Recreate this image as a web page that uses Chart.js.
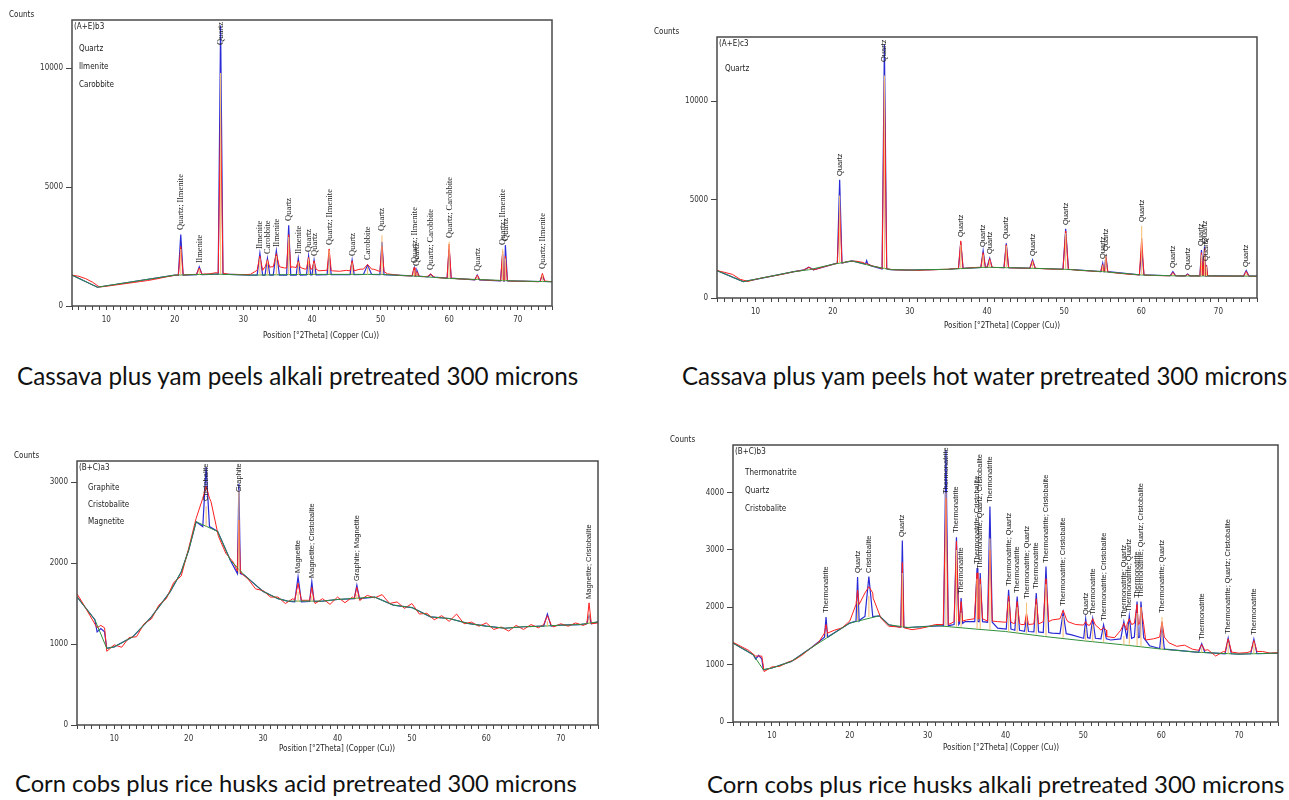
<!DOCTYPE html>
<html>
<head>
<meta charset="utf-8">
<script src="https://cdn.jsdelivr.net/npm/chart.js@4.4.1/dist/chart.umd.min.js"></script>
<style>
  body { margin: 0; width: 1289px; height: 800px; background: #fff; position: relative; overflow: hidden; }
  .panel { position: absolute; }
  .txt { position: absolute; white-space: nowrap; line-height: 1; color: #222; }
  .lbl { position: absolute; white-space: nowrap; line-height: 1; color: #222; transform-origin: 0 0; transform: rotate(-90deg); }
  .cap { position: absolute; white-space: nowrap; line-height: 1; color: #111; font-family: Lato, 'Open Sans', sans-serif; }
</style>
</head>
<body>
<script>
// ========== DATA ==========
const xTickLabels = [10, 20, 30, 40, 50, 60, 70];
// observed (red) baseline, read at every degree 5..75
const obsX = [5, 6, 7, 8, 9, 10, 11, 12, 13, 14, 15, 16, 17, 18, 19, 20, 21, 22, 23, 24, 25, 26, 27, 28, 29, 30,
  31, 32, 33, 34, 35, 36, 37, 38, 39, 40, 41, 42, 43, 44, 45, 46, 47, 48, 49, 50, 51, 52, 53, 54, 55,
  56, 57, 58, 59, 60, 61, 62, 63, 64, 65, 66, 67, 68, 69, 70, 71, 72, 73, 74, 75];

// --- (A+E)b3 : cassava + yam, alkali ---
const p1YTicks = [0, 5000, 10000];
const p1Phases = ["Quartz", "Ilmenite", "Carobbite"];
const p1BgX = [5, 8.7, 20, 26, 31, 40, 50, 55, 60, 70, 75];
const p1BgY = [1300, 790, 1300, 1340, 1300, 1330, 1330, 1260, 1160, 1050, 1020];
const p1ObsY = [1300, 1250, 1150, 1000, 800, 830, 870, 910, 950, 990,
  1030, 1070, 1120, 1180, 1240, 1290, 1300, 1320, 1330, 1340,
  1350, 1400, 1380, 1330, 1330, 1320, 1330, 1500, 1600, 1650,
  1600, 1600, 1650, 1600, 1550, 1500, 1480, 1500, 1480, 1460,
  1500, 1450, 1550, 1700, 1550, 1420, 1350, 1320, 1280, 1270,
  1260, 1230, 1260, 1200, 1180, 1170, 1150, 1130, 1120, 1100,
  1100, 1080, 1070, 1060, 1050, 1040, 1040, 1030, 1020, 1050, 1020];
const p1PeakPos = [20.86, 23.56, 26.67, 32.4, 33.5, 34.8, 36.6, 38.0, 39.5, 40.3, 42.5, 45.85, 48.1, 50.2, 54.9, 55.3, 57.3, 60.0, 64.1, 67.8, 68.2, 73.6];
const p1PeakFit = [3010, 1650, 11800, 2220, 2000, 2320, 3400, 2000, 2100, 1930, 2180, 1930, 1720, 2700, 1600, 1500, 1330, 2400, 1300, 2180, 2560, 1300];
const p1PeakObs = [2500, 1600, 8100, 2100, 1950, 2200, 3000, 1900, 2050, 1900, 2400, 1900, 1750, 2500, 1620, 1450, 1350, 2600, 1300, 2300, 2100, 1370];
const p1PeakStick = [2400, 1550, 9800, 2000, 1900, 2100, 2900, 1850, 2000, 1800, 2350, 1800, 1650, 2980, 1500, 1400, 1300, 2700, 1250, 2400, 2000, 1300];
const p1PeakBase = [1300, 1320, 1340, 1300, 1300, 1300, 1300, 1300, 1310, 1310, 1320, 1320, 1330, 1320, 1270, 1260, 1220, 1170, 1100, 1060, 1060, 1030];
const p1PeakObsBase = [1300, 1330, 1380, 1500, 1620, 1650, 1600, 1620, 1560, 1550, 1500, 1480, 1550, 1450, 1270, 1260, 1250, 1170, 1100, 1060, 1060, 1030];
const p1PeakW = [0.35, 0.4, 0.35, 0.4, 0.35, 0.45, 0.3, 0.3, 0.3, 0.3, 0.3, 0.3, 0.6, 0.3, 0.3, 0.3, 0.4, 0.3, 0.35, 0.3, 0.3, 0.35];
const p1PeakLabel = ["Quartz; Ilmenite", "Ilmenite", "Quartz", "Ilmenite", "Carobbite", "Ilmenite", "Quartz", "Ilmenite", "Quartz", "Quartz",
  "Quartz; Ilmenite", "Quartz", "Carobbite", "Quartz", "Quartz; Ilmenite", "Quartz", "Quartz; Carobbite", "Quartz; Carobbite", "Quartz",
  "Quartz; Ilmenite", "Quartz", "Quartz; Ilmenite"];

// --- (A+E)c3 : cassava + yam, hot water ---
const p2YTicks = [0, 5000, 10000];
const p2Phases = ["Quartz"];
const p2BgX = [5, 8.4, 10, 15, 17, 20, 22.5, 25, 27.5, 30, 35, 37, 40, 45, 50, 55, 60, 65, 70, 75];
const p2BgY = [1390, 830, 950, 1340, 1440, 1710, 1880, 1630, 1440, 1420, 1460, 1500, 1560, 1520, 1460, 1340, 1170, 1120, 1120, 1110];
const p2ObsY = [1390, 1300, 1200, 950, 840, 950, 1030, 1100, 1170, 1250,
  1340, 1400, 1550, 1480, 1600, 1700, 1800, 1860, 1870, 1800,
  1640, 1550, 1480, 1430, 1420, 1420, 1400, 1420, 1430, 1450,
  1460, 1500, 1500, 1540, 1560, 1570, 1550, 1540, 1530, 1520,
  1510, 1500, 1490, 1470, 1460, 1460, 1440, 1400, 1380, 1350,
  1340, 1300, 1260, 1220, 1190, 1170, 1150, 1140, 1130, 1130,
  1120, 1120, 1120, 1120, 1120, 1110, 1110, 1110, 1120, 1110, 1100];
const p2PeakPos = [16.9, 20.9, 24.4, 26.7, 36.6, 39.5, 40.35, 42.5, 45.9, 50.2, 55.0, 55.4, 60.05, 64.1, 66.0, 67.8, 68.2, 68.45, 73.6];
const p2PeakFit = [1560, 6000, 1900, 12870, 2810, 2390, 2020, 2780, 1930, 3510, 1760, 2190, 2440, 1340, 1220, 2440, 2610, 1680, 1390];
const p2PeakObs = [1560, 4640, 1750, 11000, 2900, 2300, 2000, 2700, 1900, 3400, 1700, 2100, 3035, 1300, 1200, 2300, 2500, 1650, 1350];
const p2PeakStick = [1500, 5200, 1700, 11300, 2700, 2200, 1900, 2650, 1850, 3300, 1650, 2200, 3660, 1250, 1180, 2200, 2400, 1600, 1300];
const p2PeakBase = [1430, 1770, 1720, 1480, 1500, 1550, 1560, 1540, 1510, 1460, 1340, 1340, 1170, 1130, 1120, 1120, 1120, 1120, 1110];
const p2PeakW = [0.6, 0.3, 0.15, 0.3, 0.3, 0.3, 0.3, 0.3, 0.35, 0.35, 0.25, 0.25, 0.3, 0.35, 0.3, 0.2, 0.2, 0.15, 0.35];
const p2PeakLabel = ["", "Quartz", "", "Quartz", "Quartz", "Quartz", "Quartz", "Quartz", "Quartz", "Quartz",
  "Quartz", "Quartz", "Quartz", "Quartz", "Quartz", "Quartz", "Quartz", "Quartz", "Quartz"];

// --- (B+C)a3 : corn cobs + rice husks, acid ---
const p3YTicks = [0, 1000, 2000, 3000];
const p3Phases = ["Graphite", "Cristobalite", "Magnetite"];
const p3BgX = [5, 7.4, 9.0, 10, 12.5, 15, 17.5, 19, 20, 21, 23.9, 25, 25.6, 27.5, 30, 32, 33.3, 38, 40, 45, 47.5, 50, 52.5, 55, 57.5, 60, 62.5, 65, 67.5, 70, 72.5, 75];
const p3BgY = [1582, 1300, 946, 965, 1089, 1335, 1643, 1890, 2158, 2510, 2390, 2160, 2035, 1850, 1650, 1560, 1530, 1530, 1550, 1580, 1480, 1450, 1335, 1315, 1255, 1220, 1195, 1213, 1220, 1233, 1240, 1274];
const p3ObsY = [1620, 1470, 1310, 1230, 910, 990, 960, 1080, 1090, 1250,
  1310, 1480, 1560, 1760, 1840, 2180, 2550, 2830, 2760, 2330,
  2120, 2010, 1880, 1800, 1680, 1660, 1580, 1580, 1500, 1560,
  1600, 1540, 1500, 1560, 1490, 1580, 1510, 1580, 1540, 1600,
  1570, 1610, 1500, 1520, 1440, 1500, 1370, 1380, 1300, 1350,
  1280, 1370, 1250, 1270, 1220, 1260, 1180, 1210, 1160, 1230,
  1180, 1240, 1200, 1260, 1210, 1250, 1220, 1260, 1230, 1280, 1260];
const p3PeakPos = [8.2, 22.35, 26.75, 34.7, 36.55, 42.6, 68.2, 73.8];
const p3PeakFit = [1190, 3185, 2980, 1829, 1767, 1726, 1369, 1356];
const p3PeakObs = [1230, 2950, 2530, 1750, 1700, 1700, 1350, 1508];
const p3PeakStick = [1150, 2700, 2900, 1650, 1600, 1620, 1280, 1380];
const p3PeakBase = [1150, 2450, 1870, 1520, 1525, 1560, 1220, 1250];
const p3PeakObsBase = [1200, 2800, 1900, 1540, 1540, 1560, 1240, 1250];
const p3PeakW = [0.5, 0.45, 0.2, 0.45, 0.3, 0.35, 0.5, 0.3];
const p3PeakLabel = ["", "Cristobalite", "Graphite", "Magnetite", "Magnetite; Cristobalite", "Graphite; Magnetite", "", "Magnetite; Cristobalite"];

// --- (B+C)b3 : corn cobs + rice husks, alkali ---
const p4YTicks = [0, 1000, 2000, 3000, 4000];
const p4Phases = ["Thermonatrite", "Quartz", "Cristobalite"];
const p4BgX = [5, 7.6, 8.9, 10, 12.5, 15, 17, 20, 23.8, 25, 27.5, 30, 31.2, 36.2, 40, 45, 50, 55, 60, 65, 70, 75];
const p4BgY = [1376, 1172, 911, 941, 1056, 1289, 1463, 1725, 1852, 1695, 1648, 1666, 1680, 1620, 1578, 1491, 1416, 1347, 1272, 1213, 1184, 1202];
const p4FitX = [5, 7.6, 8.9, 10, 12.5, 15, 17, 20, 21.5, 23.8, 25, 27.5, 30, 31.5, 34.8, 37, 39, 41, 43, 46, 48.5, 50, 53.5, 58.5, 60.5, 65, 70, 75];
const p4FitY = [1376, 1172, 911, 941, 1056, 1289, 1463, 1725, 1800, 1852, 1695, 1648, 1666, 1677, 1752, 1752, 1637, 1608, 1578, 1550, 1520, 1460, 1430, 1330, 1272, 1213, 1184, 1202];
const p4ObsY = [1390, 1320, 1250, 1120, 880, 960, 970, 1040, 1090, 1180,
  1290, 1390, 1500, 1600, 1640, 1760, 1950, 2300, 2160, 1810,
  1670, 1660, 1640, 1610, 1630, 1660, 1700, 1700, 1720, 1760,
  1780, 1800, 1780, 1760, 1750, 1740, 1720, 1700, 1700, 1720,
  1760, 1780, 1860, 1750, 1700, 1690, 1700, 1640, 1490, 1470,
  1700, 1720, 1700, 1430, 1450, 1520, 1380, 1320, 1340, 1270,
  1300, 1260, 1150, 1230, 1240, 1200, 1210, 1220, 1230, 1200, 1210];
const p4PeakPos = [8.3, 16.95, 21.0, 22.45, 26.75, 32.35, 33.7, 34.3, 36.35, 36.75, 38.0, 40.4, 41.5, 42.7, 43.95, 45.2, 47.4, 50.3, 51.2, 52.6, 55.2, 55.9, 56.9, 57.4, 60.1, 65.2, 68.6, 71.9];
const p4PeakFit = [1160, 1829, 2526, 2537, 3163, 4743, 3222, 2160, 2683, 2596, 3756, 2305, 2188, 1840, 2247, 2711, 1909, 1800, 1804, 1695, 1752, 1852, 2100, 2100, 1666, 1364, 1463, 1446];
const p4PeakObs = [1150, 1700, 2300, 2360, 2780, 3902, 3150, 2100, 2600, 2500, 3000, 2200, 2100, 1900, 2150, 2500, 1950, 1750, 1800, 1650, 1720, 1800, 2050, 2000, 1750, 1350, 1450, 1420];
const p4PeakStick = [1100, 1560, 2100, 2200, 2600, 4000, 3000, 1900, 2500, 2400, 3200, 2100, 2000, 2083, 2050, 2400, 1850, 1650, 1700, 1600, 1500, 1700, 1900, 2000, 1829, 1300, 1380, 1380];
const p4PeakBase = [1100, 1480, 1760, 1830, 1650, 1680, 1665, 1660, 1625, 1620, 1610, 1573, 1560, 1550, 1530, 1505, 1470, 1415, 1405, 1390, 1345, 1335, 1325, 1318, 1270, 1210, 1190, 1190];
const p4PeakObsBase = [1150, 1550, 2050, 2250, 1650, 1700, 1750, 1760, 1800, 1800, 1760, 1740, 1720, 1700, 1710, 1750, 1800, 1690, 1690, 1600, 1600, 1700, 1720, 1700, 1480, 1250, 1220, 1230];
const p4PeakFitBase = [1100, 1480, 1760, 1840, 1650, 1680, 1700, 1720, 1750, 1750, 1740, 1620, 1600, 1580, 1570, 1560, 1540, 1470, 1460, 1450, 1450, 1460, 1480, 1470, 1280, 1215, 1190, 1190];
const p4PeakW = [0.4, 0.2, 0.2, 0.5, 0.2, 0.3, 0.3, 0.2, 0.3, 0.3, 0.3, 0.3, 0.3, 0.25, 0.3, 0.35, 0.4, 0.25, 0.35, 0.35, 0.4, 0.3, 0.35, 0.35, 0.3, 0.4, 0.4, 0.4];
const p4PeakLabel = ["", "Thermonatrite", "Quartz", "Cristobalite", "Quartz", "Thermonatrite", "Thermonatrite", "Thermonatrite",
  "Thermonatrite; Cristobalite", "Thermonatrite; Quartz; Cristobalite", "Thermonatrite", "Thermonatrite; Quartz", "Thermonatrite",
  "Thermonatrite; Quartz", "Thermonatrite", "Thermonatrite; Cristobalite", "Thermonatrite; Cristobalite", "Quartz", "Thermonatrite",
  "Thermonatrite; Cristobalite", "Thermonatrite; Quartz", "Thermonatrite; Quartz", "Thermonatrite", "Thermonatrite; Quartz; Cristobalite",
  "Thermonatrite; Quartz", "Thermonatrite", "Thermonatrite; Quartz; Cristobalite", "Thermonatrite"];

// ========== STYLE / LAYOUT ==========
const RED = "#ff1f1f", BLUE = "#2b2bd6", GREEN = "#2f8f3a", ORANGE = "#f6c27a", AXIS = "#444";
const NARROW = "'Liberation Sans Narrow','DejaVu Sans Condensed',sans-serif";
const SANS = "'Liberation Sans',Arial,sans-serif";
const SERIF = "'Liberation Serif','Times New Roman',serif";

const panels = [
  { name: "(A+E)b3", box: { l: 72, t: 20, r: 552, b: 306 }, yMax: 12030, yTicks: p1YTicks, phases: p1Phases,
    phaseDx: 7, phaseDy: 29, phaseStep: 18, titleX: 321, titleY: 336, labelFont: SERIF, labelSize: 8.5,
    bgX: p1BgX, bgY: p1BgY, obsY: p1ObsY, pos: p1PeakPos, fit: p1PeakFit, obs: p1PeakObs, stick: p1PeakStick,
    base: p1PeakBase, obsBase: p1PeakObsBase, w: p1PeakW, label: p1PeakLabel,
    caption: "Cassava plus yam peels alkali pretreated 300 microns", capL: 17, capR: 578, capY: 377 },
  { name: "(A+E)c3", box: { l: 717, t: 37, r: 1257, b: 298 }, yMax: 13250, yTicks: p2YTicks, phases: p2Phases,
    phaseDx: 8, phaseDy: 32, phaseStep: 18, titleX: 1002, titleY: 326, labelFont: SANS, labelSize: 7.5,
    bgX: p2BgX, bgY: p2BgY, obsY: p2ObsY, pos: p2PeakPos, fit: p2PeakFit, obs: p2PeakObs, stick: p2PeakStick,
    base: p2PeakBase, obsBase: p2PeakBase, w: p2PeakW, label: p2PeakLabel,
    caption: "Cassava plus yam peels hot water pretreated 300 microns", capL: 682, capR: 1287, capY: 377 },
  { name: "(B+C)a3", box: { l: 77, t: 461, r: 598, b: 725 }, yMax: 3260, yTicks: p3YTicks, phases: p3Phases,
    phaseDx: 11, phaseDy: 27, phaseStep: 17, titleX: 337, titleY: 749, labelFont: SANS, labelSize: 7.5,
    bgX: p3BgX, bgY: p3BgY, obsY: p3ObsY, pos: p3PeakPos, fit: p3PeakFit, obs: p3PeakObs, stick: p3PeakStick,
    base: p3PeakBase, obsBase: p3PeakObsBase, w: p3PeakW, label: p3PeakLabel,
    caption: "Corn cobs plus rice husks acid pretreated 300 microns", capL: 15, capR: 577, capY: 785 },
  { name: "(B+C)b3", box: { l: 733, t: 445, r: 1278, b: 722 }, yMax: 4830, yTicks: p4YTicks, phases: p4Phases,
    phaseDx: 12, phaseDy: 28, phaseStep: 18, titleX: 1001, titleY: 748, labelFont: SANS, labelSize: 7.5,
    bgX: p4BgX, bgY: p4BgY, fitX: p4FitX, fitY: p4FitY, obsY: p4ObsY, pos: p4PeakPos, fit: p4PeakFit, obs: p4PeakObs,
    stick: p4PeakStick, base: p4PeakBase, obsBase: p4PeakObsBase, fitBase: p4PeakFitBase, w: p4PeakW, label: p4PeakLabel,
    caption: "Corn cobs plus rice husks alkali pretreated 300 microns", capL: 707, capR: 1285, capY: 785 },
];

// integer minor ticks along 2Theta
const xMinorTicks = [];
for (let v = 5; v <= 75; v++) xMinorTicks.push(v);

// ========== HELPERS ==========
// baseline points + one triangle per peak (foot, apex, foot)
function buildLine(bx, by, pos, top, foot, w) {
  const pts = [];
  bx.forEach((x, i) => {
    if (!pos.some((p, j) => Math.abs(x - p) <= w[j])) pts.push({ x, y: by[i] });
  });
  pos.forEach((p, j) => {
    pts.push({ x: p - w[j], y: foot[j] }, { x: p, y: top[j] }, { x: p + w[j], y: foot[j] });
  });
  return pts.sort((a, b) => a.x - b.x);
}

function stickLine(pos, base, top) {
  const pts = [];
  pos.forEach((p, i) => pts.push({ x: p, y: base[i] }, { x: p, y: top[i] }, { x: p, y: null }));
  return pts;
}

function addText(parent, text, x, yc, size, family, cls) {
  const d = document.createElement("div");
  d.className = cls || "txt";
  d.textContent = text;
  d.style.fontSize = size + "px";
  d.style.fontFamily = family;
  d.style.left = x + "px";
  d.style.top = (yc - size / 2) + "px";
  parent.appendChild(d);
  return d;
}

const frame = {
  id: "frame",
  afterDatasetsDraw(chart) {
    const { ctx, chartArea: a } = chart;
    ctx.save();
    ctx.strokeStyle = "#4a4a4a";
    ctx.lineWidth = 1.5;
    ctx.strokeRect(a.left, a.top, a.right - a.left, a.bottom - a.top);
    ctx.restore();
  }
};

// ========== CHARTS ==========
const PT = 10, PR = 8, XH = 26, YW = 72;

panels.forEach((cfg) => {
  const box = cfg.box;
  const wrap = document.createElement("div");
  wrap.className = "panel";
  const wl = box.l - YW, wt = box.t - PT;
  wrap.style.left = wl + "px";
  wrap.style.top = wt + "px";
  const W = YW + box.r - box.l + PR, H = PT + box.b - box.t + XH;
  const cv = document.createElement("canvas");
  cv.width = W; cv.height = H;
  cv.style.width = W + "px"; cv.style.height = H + "px";
  wrap.appendChild(cv);
  document.body.appendChild(wrap);

  const fitLine = buildLine(cfg.fitX || cfg.bgX, cfg.fitY || cfg.bgY, cfg.pos, cfg.fit, cfg.fitBase || cfg.base, cfg.w);
  const obsLine = buildLine(obsX, cfg.obsY, cfg.pos, cfg.obs, cfg.obsBase, cfg.w);
  const bgLine = cfg.bgX.map((x, i) => ({ x, y: cfg.bgY[i] }));
  const sticks = stickLine(cfg.pos, cfg.base, cfg.stick);

  const gridOpts = { drawOnChartArea: false, drawTicks: true, color: AXIS, tickColor: AXIS };
  const chart = new Chart(cv, {
    type: "line",
    data: {
      datasets: [
        { data: sticks, borderColor: ORANGE, borderWidth: 1.1 },
        { data: bgLine, borderColor: GREEN, borderWidth: 1 },
        { data: obsLine, borderColor: RED, borderWidth: 1 },
        { data: fitLine, borderColor: BLUE, borderWidth: 1.2 },
      ]
    },
    options: {
      responsive: false,
      animation: false,
      devicePixelRatio: 1,
      events: [],
      elements: { point: { radius: 0 }, line: { tension: 0, fill: false } },
      layout: { padding: { left: 0, top: PT, right: PR, bottom: 0 } },
      plugins: { legend: { display: false }, tooltip: { enabled: false } },
      scales: {
        x: {
          type: "linear", min: 5, max: 75,
          afterBuildTicks: (s) => { s.ticks = xMinorTicks.map((v) => ({ value: v })); },
          afterFit: (s) => { s.height = XH; },
          grid: Object.assign({ tickLength: 4 }, gridOpts),
          border: { display: false },
          ticks: {
            autoSkip: false, maxRotation: 0, padding: 5, color: "#333",
            font: { family: NARROW, size: 8 },
            callback: (v) => (xTickLabels.includes(v) ? String(v) : "")
          }
        },
        y: {
          min: 0, max: cfg.yMax,
          afterBuildTicks: (s) => { s.ticks = cfg.yTicks.map((v) => ({ value: v })); },
          afterFit: (s) => { s.width = YW; },
          grid: Object.assign({ tickLength: 6 }, gridOpts),
          border: { display: false },
          ticks: { padding: 3, color: "#333", font: { family: NARROW, size: 8 }, callback: (v) => String(v) }
        }
      }
    },
    plugins: [frame]
  });

  // peak labels, standing vertically above each peak
  const xs = chart.scales.x, ys = chart.scales.y, a = chart.chartArea;
  cfg.pos.forEach((p, i) => {
    if (!cfg.label[i]) return;
    const d = document.createElement("div");
    d.className = "lbl";
    d.textContent = cfg.label[i];
    d.style.fontSize = cfg.labelSize + "px";
    d.style.fontFamily = cfg.labelFont;
    wrap.appendChild(d);
    const tw = d.offsetWidth, th = d.offsetHeight;
    let y = ys.getPixelForValue(Math.max(cfg.fit[i], cfg.obs[i], cfg.stick[i])) - 4;
    if (y - tw < a.top + 2) y = a.top + 2 + tw;
    d.style.left = (xs.getPixelForValue(p) - th / 2) + "px";
    d.style.top = y + "px";
  });

  // sample name and phase list inside the frame
  addText(document.body, cfg.name, box.l + 2, box.t + 7, 8, NARROW);
  cfg.phases.forEach((ph, i) => {
    addText(document.body, ph, box.l + cfg.phaseDx, box.t + cfg.phaseDy + i * cfg.phaseStep, 8, NARROW);
  });

  // "Counts" and the 2Theta axis title
  addText(document.body, "Counts", box.l - 63, box.t - 5, 8, NARROW);
  const t = addText(document.body, "Position [\u00b02Theta] (Copper (Cu))", 0, cfg.titleY, 8, NARROW);
  t.style.left = (cfg.titleX - t.offsetWidth / 2) + "px";

  // caption fitted to its width in the figure
  const c = addText(document.body, cfg.caption, cfg.capL, cfg.capY, 20, "Lato, 'Open Sans', sans-serif", "cap");
  const size = 20 * (cfg.capR - cfg.capL) / c.offsetWidth;
  c.style.fontSize = size + "px";
  c.style.top = (cfg.capY - size * 0.55) + "px";
});
</script>
</body>
</html>
